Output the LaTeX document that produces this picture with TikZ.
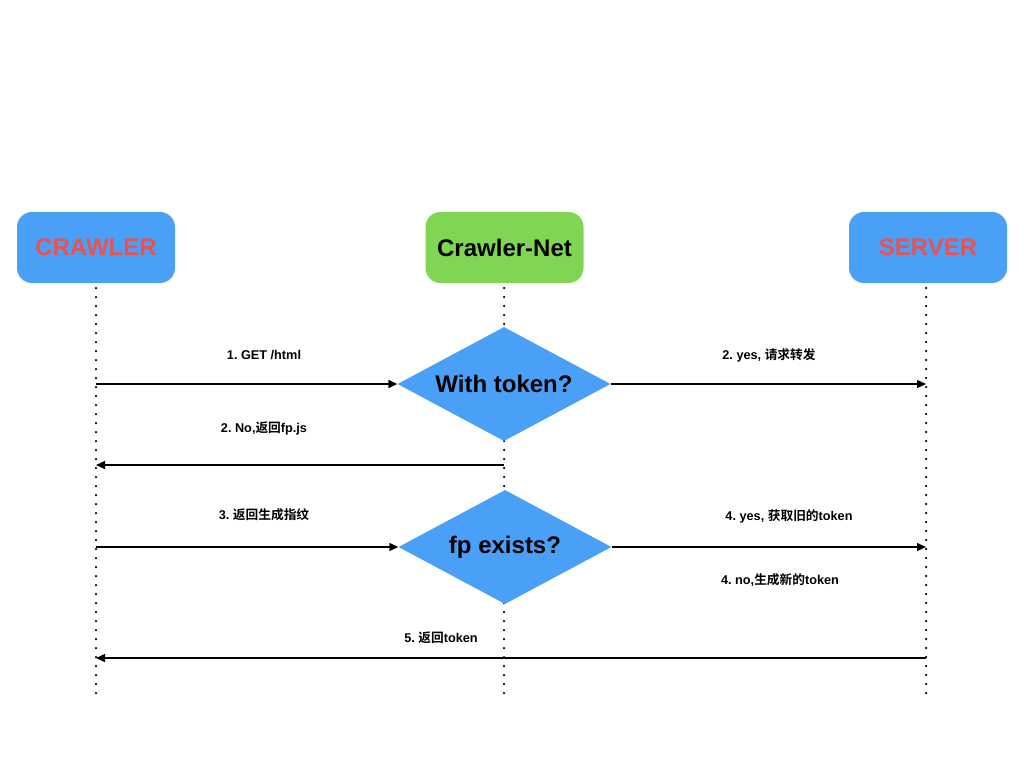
\documentclass[tikz,border=0pt]{standalone}
\usepackage{fontspec}
\setmainfont{Liberation Sans}
\newfontfamily\cjk{Noto Sans CJK SC}[BoldFont={Noto Sans CJK SC Bold}]
\usetikzlibrary{shapes.geometric,arrows.meta}
\definecolor{boxblue}{RGB}{74,160,247}
\definecolor{boxgreen}{RGB}{128,214,84}
\definecolor{txtred}{RGB}{232,82,82}
\frenchspacing
\tikzset{
  actor/.style={rounded corners=15pt, minimum width=158pt, minimum height=71pt, inner sep=0pt, font=\bfseries\fontsize{24}{26}\selectfont},
  decision/.style={diamond, fill=boxblue, minimum width=213pt, minimum height=114pt, inner sep=0pt, aspect=1.87, font=\bfseries\fontsize{24}{26}\selectfont},
  lifeline/.style={line width=2.5pt, line cap=round, dash pattern=on 0pt off 9pt},
  msg/.style={line width=1.4pt, -{Triangle[length=9pt,width=8pt]}},
  lbl/.style={font=\bfseries\fontsize{12.7}{14}\selectfont}
}
\begin{document}
\begin{tikzpicture}[x=1pt,y=-1pt]
\useasboundingbox (0,0) rectangle (1024,768);
\node[actor, fill=boxblue, text=txtred] (crawler) at (96,247.5) {CRAWLER};
\node[actor, fill=boxgreen, text=black] (net) at (504.5,247.5) {Crawler-Net};
\node[actor, fill=boxblue, text=txtred] (server) at (928,247.5) {SERVER};
\coordinate (ca) at (96,288);
\coordinate (cb) at (96,693);
\coordinate (na) at (504,288);
\coordinate (nb) at (504,693);
\coordinate (sa) at (926,288);
\coordinate (sb) at (926,693);
\draw[lifeline] (ca) -- (cb);
\draw[lifeline] (na) -- (nb);
\draw[lifeline] (sa) -- (sb);
\node[decision] (d1) at (504,384) {With token?};
\node[decision] (d2) at (505,547) {\raisebox{-2pt}{fp exists?}};
\coordinate (c1) at (96,384);
\coordinate (s1) at (926,384);
\coordinate (n2) at (504,465);
\coordinate (c2) at (96,465);
\coordinate (c3) at (96,547);
\coordinate (s3) at (926,547);
\coordinate (s5) at (926,658);
\coordinate (c5) at (96,658);
\draw[msg] (c1) -- (d1.west);
\draw[msg] (d1.east) -- (s1);
\draw[msg] (n2) -- (c2);
\draw[msg] (c3) -- (d2.west);
\draw[msg] (d2.east) -- (s3);
\draw[msg] (s5) -- (c5);
\node[lbl] (l1) at (264,355) {1. GET /html};
\node[lbl] (l2) at (769,355) {2. yes, {\cjk 请求转发}};
\node[lbl] (l3) at (264,428) {2. No,{\cjk 返回}fp.js};
\node[lbl] (l4) at (264,515) {3. {\cjk 返回生成指纹}};
\node[lbl] (l5) at (789,516) {4. yes, {\cjk 获取旧的}token};
\node[lbl] (l6) at (780,580) {4. no,{\cjk 生成新的}token};
\node[lbl] (l7) at (441,638) {5. {\cjk 返回}token};
\end{tikzpicture}
\end{document}
